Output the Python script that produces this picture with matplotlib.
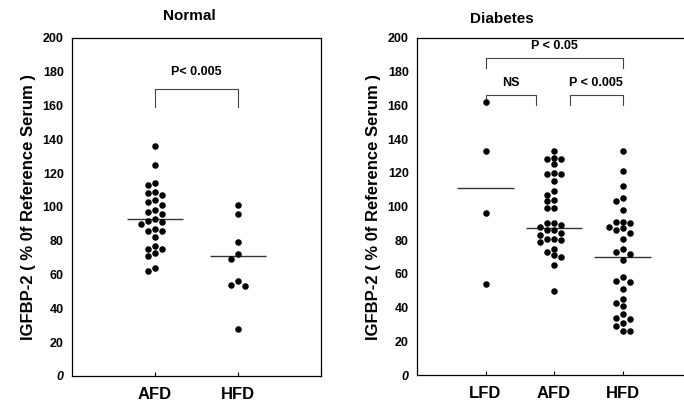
import numpy as np
import matplotlib
matplotlib.use('Agg')
import matplotlib.pyplot as plt

plt.rcParams['font.family'] = ['Liberation Sans', 'DejaVu Sans']
plt.rcParams['font.weight'] = 'bold'

# DATA
normal_groups = ['AFD', 'HFD']
normal_afd = [136, 125, 114, 113, 109, 108, 107, 104, 103, 101, 98, 97, 96, 93,
              92, 91, 90, 87, 86, 86, 82, 77, 75, 75, 73, 71, 64, 62]
normal_hfd = [101, 96, 79, 72, 69, 56, 54, 53, 28]
normal_med = [93, 71]

diab_groups = ['LFD', 'AFD', 'HFD']
diab_lfd = [162, 133, 96, 54]
diab_afd = [133, 129, 128, 128, 125, 120, 119, 119, 115, 109, 107, 104, 103, 99,
            99, 90, 90, 89, 88, 86, 86, 84, 83, 81, 81, 80, 79, 75, 73, 71, 70,
            65, 50]
diab_hfd = [133, 121, 112, 105, 103, 98, 91, 91, 90, 88, 87, 86, 84, 81, 75, 73,
            72, 68, 58, 56, 55, 51, 45, 43, 41, 36, 34, 33, 31, 29, 26, 26]
diab_med = [111, 87, 70]

yticks = list(range(0, 201, 20))
ylab = 'IGFBP-2 ( % 0f Reference Serum )'


def swarm(ax, x0, vals, step=7.0, d=6.3):
    # simple beeswarm in pixel space: centre column first, then sides
    pts = ax.transData.transform([(x0, v) for v in sorted(vals, reverse=True)])
    placed = []
    for px, py in pts:
        for k in [0, -1, 1, -2, 2, -3, 3]:
            qx = px + k * step
            if all(np.hypot(qx - ax_, py - ay_) >= d for ax_, ay_ in placed):
                placed.append((qx, py))
                break
    xy = ax.transData.inverted().transform(placed)
    ax.scatter(xy[:, 0], xy[:, 1], s=22, color='black', linewidths=0, zorder=3)


def style(ax, groups):
    ax.set_ylim(0, 200)
    ax.set_yticks(yticks)
    ax.set_yticklabels([str(t) for t in yticks], fontsize=9, fontweight='bold')
    ax.get_yticklabels()[0].set_style('italic')
    ax.set_xticks(range(1, len(groups) + 1))
    ax.set_xticklabels(groups, fontsize=12, fontweight='bold')
    ax.tick_params(axis='y', length=0, pad=6)
    ax.tick_params(axis='x', direction='in', length=3, pad=8)
    ax.set_ylabel(ylab, fontsize=12, fontweight='bold', labelpad=5)
    for s in ax.spines.values():
        s.set_linewidth(0.9)


def bracket(ax, x1, x2, ytop, ybot, text, ytext):
    ax.plot([x1, x1, x2, x2], [ybot, ytop, ytop, ybot], color='#444444', lw=0.8,
            clip_on=False)
    ax.text((x1 + x2) / 2, ytext, text, ha='center', va='center', fontsize=9,
            fontweight='bold')


fig = plt.figure(figsize=(6.84, 4.08), dpi=100)

# NORMAL
ax1 = fig.add_axes([72 / 684, 1 - 376 / 408, 249 / 684, 338 / 408])
ax1.set_xlim(0, 3)
style(ax1, normal_groups)
for i, vals in enumerate([normal_afd, normal_hfd]):
    swarm(ax1, i + 1, vals)
    ax1.hlines(normal_med[i], i + 1 - 0.34, i + 1 + 0.34, color='#333333', lw=1)
bracket(ax1, 1, 2, 170, 159, 'P< 0.005', 180)
ax1.text(0.47, 1.066, 'Normal', transform=ax1.transAxes, ha='center', va='center',
         fontsize=11, fontweight='bold')

# DIABETES
ax2 = fig.add_axes([417 / 684, 1 - 375 / 408, 274 / 684, 337 / 408])
ax2.set_xlim(0, 4)
style(ax2, diab_groups)
ax2.spines['right'].set_visible(False)
for i, vals in enumerate([diab_lfd, diab_afd, diab_hfd]):
    swarm(ax2, i + 1, vals)
    ax2.hlines(diab_med[i], i + 1 - 0.41, i + 1 + 0.41, color='#333333', lw=1)
bracket(ax2, 1, 3, 188, 182, 'P < 0.05', 195.5)
bracket(ax2, 1, 1.73, 166, 160, 'NS', 173.5)
bracket(ax2, 2.23, 3, 166, 160, 'P < 0.005', 173.5)
ax2.text(0.31, 1.057, 'Diabetes', transform=ax2.transAxes, ha='center',
         va='center', fontsize=11, fontweight='bold')

fig.savefig('out.png', dpi=100)
